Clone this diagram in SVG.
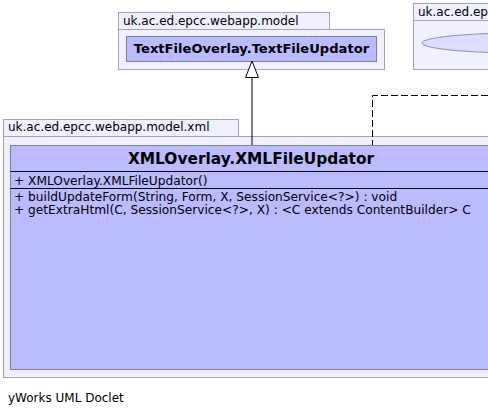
<svg xmlns="http://www.w3.org/2000/svg" width="488" height="415" viewBox="0 0 488 415">
<style>
.pkg{fill:#f0f0ff;stroke:#a3a3b5;stroke-width:1}
.cls{fill:#bbbbff;stroke:#7f7fa0;stroke-width:1}
.sep{stroke:#000;stroke-width:1}
.plbl{font-family:"DejaVu Sans",sans-serif;font-size:12px;fill:#000}
.mem{font-family:"DejaVu Sans",sans-serif;font-size:12.2px;fill:#000}
.ttl{font-family:"DejaVu Sans",sans-serif;font-weight:bold;fill:#000;text-anchor:middle}
.edge{fill:none;stroke:#000;stroke-width:1}
</style>
<rect width="488" height="415" fill="#fff"/>
<g id="pkg-model">
<rect class="pkg" x="118.5" y="12.5" width="211" height="17"/>
<rect class="pkg" x="118.5" y="29.5" width="266" height="40"/>
<text class="plbl" x="123" y="25">uk.ac.ed.epcc.webapp.model</text>
</g>
<g id="TextFileUpdator">
<rect class="cls" x="126.5" y="36.5" width="250" height="25"/>
<text class="ttl" x="251.5" y="53" font-size="13.1">TextFileOverlay.TextFileUpdator</text>
</g>
<g id="pkg-other">
<rect class="pkg" x="413.5" y="3.5" width="90" height="17"/>
<rect class="pkg" x="413.5" y="20.5" width="90" height="49"/>
<text class="plbl" x="418" y="16">uk.ac.ed.ep</text>
<ellipse cx="521" cy="43" rx="99" ry="10" fill="#ddddff" stroke="#8f8fa5"/>
</g>
<g id="pkg-xml">
<rect class="pkg" x="3.5" y="119.5" width="235" height="17"/>
<rect class="pkg" x="3.5" y="136.5" width="500" height="241"/>
<text class="plbl" x="8" y="131">uk.ac.ed.epcc.webapp.model.xml</text>
</g>
<g id="XMLFileUpdator">
<rect class="cls" x="10.5" y="145.5" width="490" height="224"/>
<text class="ttl" x="251" y="164" font-size="15.4">XMLOverlay.XMLFileUpdator</text>
<line class="sep" x1="10.5" y1="171.5" x2="500" y2="171.5"/>
<text class="mem" x="14" y="184.5">+ XMLOverlay.XMLFileUpdator()</text>
<line class="sep" x1="10.5" y1="188.5" x2="500" y2="188.5"/>
<text class="mem" x="14" y="200.5">+ buildUpdateForm(String, Form, X, SessionService&lt;?&gt;) : void</text>
<text class="mem" x="14" y="214">+ getExtraHtml(C, SessionService&lt;?&gt;, X) : &lt;C extends ContentBuilder&gt; C</text>
</g>
<g id="connectors">
<line class="edge" x1="252" y1="77" x2="252" y2="145"/>
<polygon points="252,61 245.5,77.5 258.5,77.5" fill="#fff" stroke="#000"/>
<path class="edge" d="M488,95.5 H372.5 V145" stroke-dasharray="7,3"/>
</g>
<text class="plbl" x="8" y="402">yWorks UML Doclet</text>
</svg>
